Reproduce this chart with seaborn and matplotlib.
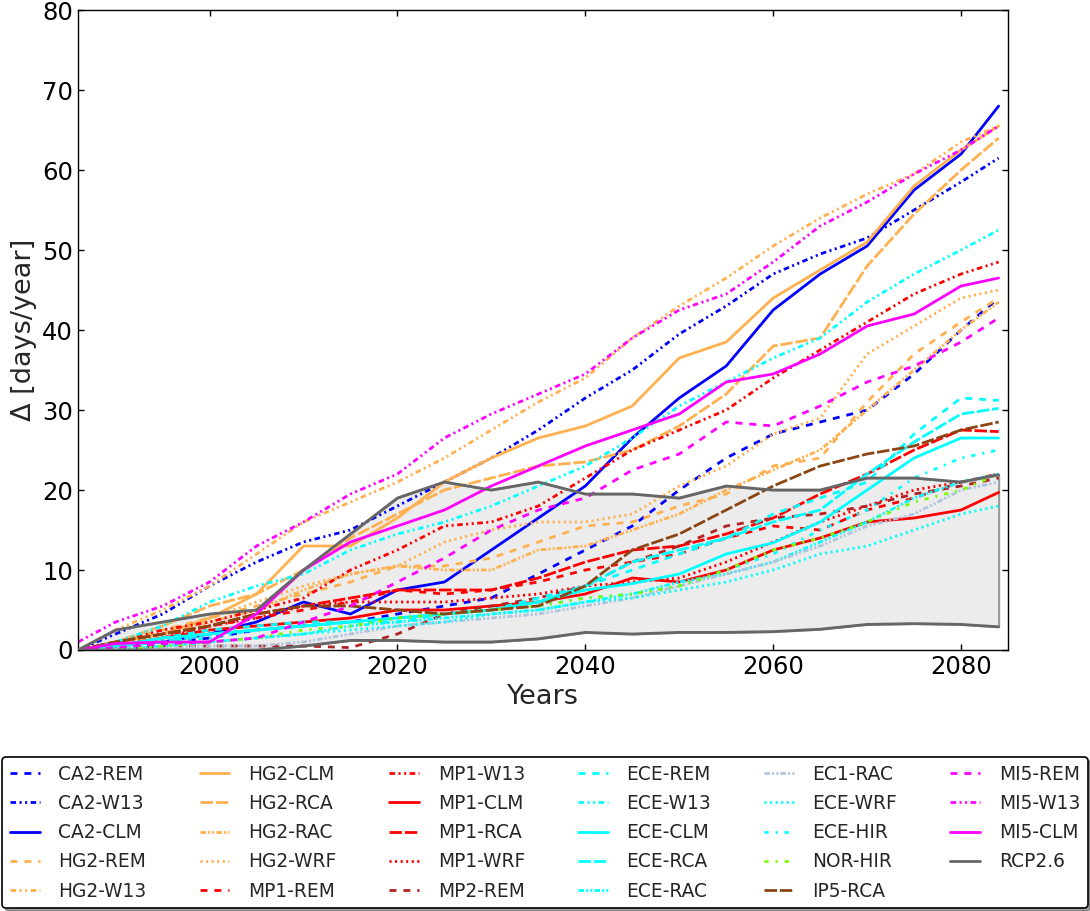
import matplotlib
matplotlib.use("Agg")
import matplotlib.pyplot as plt
import seaborn as sns

# values (days/year change), every ~5 years
years = [1986, 1990, 1995, 2000, 2005, 2010, 2015, 2020, 2025, 2030, 2035,
         2040, 2045, 2050, 2055, 2060, 2065, 2070, 2075, 2080, 2084]

ca2_rem = [0, 0.3, 0.8, 1.5, 2.5, 3, 3.5, 4.5, 5.5, 6.5, 9.5, 12.5, 15.5, 20, 24, 27, 28.5, 30, 34.5, 40, 44]
ca2_w13 = [0, 2, 4.5, 8, 11, 13.5, 15, 18, 21, 24, 27.5, 31.5, 35, 39.5, 43, 47, 49.5, 51.5, 55, 58.5, 61.5]
ca2_clm = [0, 0.5, 1, 2, 3.5, 6, 4.5, 7.5, 8.5, 12.5, 16.5, 20.5, 26.5, 31.5, 35.5, 42.5, 47, 50.5, 57.5, 62, 68]
hg2_rem = [0, 1, 2.5, 4, 5.5, 7, 8.5, 10.5, 10.5, 11.5, 13.5, 15.5, 16, 18, 19.5, 23, 24, 31, 37, 41, 44]
hg2_w13 = [0, 2.5, 5, 8, 12, 16, 18.5, 21, 24, 27.5, 31, 34, 39, 43, 46.5, 50.5, 54, 57, 59.5, 63.5, 65.5]
hg2_clm = [0, 1, 2, 4, 7, 13, 13, 16.5, 21, 24, 26.5, 28, 30.5, 36.5, 38.5, 44, 47.5, 51, 58, 62.5, 65.5]
hg2_rca = [0, 1, 3, 5.5, 7, 10, 14, 17, 20, 21.5, 23, 23.5, 25, 28, 32, 38, 39, 48, 54.5, 60, 64]
hg2_rac = [0, 0.5, 2, 3.5, 5, 7.5, 9.5, 10.5, 10, 10, 12.5, 13, 15, 17, 20, 22.5, 25, 30, 35, 40, 43.5]
hg2_wrf = [0, 0.5, 2, 4, 6, 8, 9.5, 10.5, 13.5, 15, 16, 16, 17, 20.5, 23, 27, 29, 37, 40.5, 44, 45]
mp1_rem = [0, 0.5, 1.5, 3, 4, 5, 6, 7.5, 7, 7.5, 8.5, 10, 11, 12, 14, 15.5, 15, 17.5, 19, 21, 22]
mp1_w13 = [0, 1, 2.5, 3.5, 5, 6.5, 10, 12.5, 15.5, 16, 18, 21.5, 25, 27.5, 30, 34, 37.5, 41, 44.5, 47, 48.5]
mp1_clm = [0, 0.5, 1.5, 2.5, 3, 3.5, 4, 5, 5, 5.5, 6, 7, 9, 8.5, 10, 12.5, 14, 16, 16.5, 17.5, 19.7]
mp1_rca = [0, 1, 2, 3, 4.5, 5.5, 6.5, 7.5, 7.5, 7.5, 9, 11, 12.5, 13, 14.5, 16.5, 19.5, 22, 25, 27.5, 27.3]
mp1_wrf = [0, 0.5, 1.5, 3, 4, 5.5, 6, 6, 6, 6.5, 7, 8, 8.5, 9, 11, 13.5, 16, 18, 20, 21, 22]
mp2_rem = [0, 0, 0.5, 0.5, 0.5, 0.5, 0.3, 2, 4.5, 5.5, 6.5, 8, 11, 13, 15.5, 16.5, 17, 18, 19.5, 20.5, 21.5]
ece_rem = [0, 0.5, 1.5, 2.5, 3, 3.5, 3.5, 3.5, 4.5, 5, 6.5, 8, 10, 12, 14, 17, 19, 21, 27, 31.5, 31.2]
ece_w13 = [0, 1, 3, 6, 8, 9.5, 12.5, 14.5, 16, 18, 20.5, 23, 26.5, 30.5, 33.5, 36.5, 39, 43.5, 47, 50, 52.5]
ece_clm = [0, 0.5, 1.5, 2, 2.5, 3, 3.5, 4, 4.5, 5, 6, 7.5, 8.3, 9.5, 12, 13.4, 16, 20, 24, 26.5, 26.5]
ece_rca = [0, 0.5, 1, 2, 2.5, 3, 3.5, 4, 4.5, 5, 6, 8, 11, 12.5, 14, 16, 17.5, 22, 26, 29.5, 30.2]
ece_rac = [0, 0, 0.5, 1, 1.5, 2, 3, 3.5, 4, 4.5, 5, 6, 7, 8.5, 9.5, 11, 13.5, 16, 19, 21, 22]
ec1_rac = [0, 0, 0.3, 0.5, 0.5, 1, 2, 3, 3.5, 4, 4.5, 5.5, 6.5, 8, 9.5, 11, 13, 15.5, 17, 20, 21]
ece_wrf = [0, 0, 0.5, 1, 1.5, 2, 2.5, 3, 3.5, 4.5, 5, 6, 6.5, 7.5, 8.5, 10, 12, 13, 15, 17, 18]
ece_hir = [0, 0.5, 1, 1.5, 2.5, 3, 3.5, 4, 4.5, 5, 5.5, 6.5, 7, 8, 10, 12, 15, 17.5, 21.5, 24, 25]
nor_hir = [0, 0, 0.5, 1, 1.5, 2.5, 3, 4, 4.5, 5, 5.5, 6.5, 7, 8, 10, 12.5, 14, 16, 18.5, 20, 22]
ip5_rca = [0, 1, 2, 3, 4.5, 5.5, 5.5, 5, 4.5, 5, 5.5, 8, 12.5, 14.5, 17.5, 20.5, 23, 24.5, 25.5, 27.5, 28.5]
mi5_rem = [0, 0.3, 0.8, 1, 1.5, 3.5, 5.5, 8.5, 11.5, 15, 17.5, 19, 22.5, 24.5, 28.5, 28, 30.5, 33.5, 35.5, 38.5, 41.5]
mi5_w13 = [1, 3.5, 5.5, 8.5, 13, 16, 19.5, 22, 26.5, 29.5, 32, 34.5, 39, 42.5, 44.5, 48.5, 53, 56, 59.5, 62.5, 65.5]
mi5_clm = [0, 0.8, 1, 1, 4.5, 10, 13.5, 15.5, 17.5, 20.5, 23, 25.5, 27.5, 29.5, 33.5, 34.5, 37, 40.5, 42, 45.5, 46.5]
rcp_hi = [0, 2.5, 3.5, 4.5, 5, 10, 14.5, 19, 21, 20, 21, 19.5, 19.5, 19, 20.5, 20, 20, 21.5, 21.5, 21, 21.9]
rcp_lo = [0, 0, 0, 0, 0, 0.5, 1.2, 1.2, 1, 1, 1.4, 2.2, 2, 2.2, 2.2, 2.3, 2.6, 3.2, 3.3, 3.2, 2.9]

# line styles per RCM
REM = (0, (5, 5))
W13 = (0, (4, 2.5, 1.5, 2.5, 1.5, 2.5))
CLM = "-"
RCA = (0, (9, 2))
RAC = (0, (4, 1.5, 1.5, 1.5, 1.5, 1.5))
WRF = (0, (1.5, 2.5))
HIR = (0, (3, 5, 1.5, 5))

blue = "#0000ff"
orange = "#ffb04f"
red = "#ff0000"
firebrick = "#b22222"
cyan = "#00ffff"
steel = "#b0c4de"
green = "#7cfc00"
brown = "#8b4513"
magenta = "#ff00ff"
grey = "#666666"

series = [
    ("CA2-REM", ca2_rem, blue, REM),
    ("CA2-W13", ca2_w13, blue, W13),
    ("CA2-CLM", ca2_clm, blue, CLM),
    ("HG2-REM", hg2_rem, orange, REM),
    ("HG2-W13", hg2_w13, orange, W13),
    ("HG2-CLM", hg2_clm, orange, CLM),
    ("HG2-RCA", hg2_rca, orange, RCA),
    ("HG2-RAC", hg2_rac, orange, RAC),
    ("HG2-WRF", hg2_wrf, orange, WRF),
    ("MP1-REM", mp1_rem, red, REM),
    ("MP1-W13", mp1_w13, red, W13),
    ("MP1-CLM", mp1_clm, red, CLM),
    ("MP1-RCA", mp1_rca, red, RCA),
    ("MP1-WRF", mp1_wrf, red, WRF),
    ("MP2-REM", mp2_rem, firebrick, REM),
    ("ECE-REM", ece_rem, cyan, REM),
    ("ECE-W13", ece_w13, cyan, W13),
    ("ECE-CLM", ece_clm, cyan, CLM),
    ("ECE-RCA", ece_rca, cyan, RCA),
    ("ECE-RAC", ece_rac, cyan, RAC),
    ("EC1-RAC", ec1_rac, steel, RAC),
    ("ECE-WRF", ece_wrf, cyan, WRF),
    ("ECE-HIR", ece_hir, cyan, HIR),
    ("NOR-HIR", nor_hir, green, HIR),
    ("IP5-RCA", ip5_rca, brown, RCA),
    ("MI5-REM", mi5_rem, magenta, REM),
    ("MI5-W13", mi5_w13, magenta, W13),
    ("MI5-CLM", mi5_clm, magenta, CLM),
]

sns.set_style("ticks")
plt.rcParams["font.family"] = ["DejaVu Sans"]
plt.rcParams["lines.scale_dashes"] = False

fig = plt.figure(figsize=(10.9, 9.11), dpi=100)
ax = fig.add_axes([0.0716, 0.2865, 0.8532, 0.7025])

ax.fill_between(years, rcp_lo, rcp_hi, facecolor="#ececec", edgecolor="#999999", lw=1.5, zorder=1)

handles, labels = [], []
for name, vals, color, ls in series:
    sns.lineplot(x=years, y=vals, color=color, linestyle=ls, lw=2,
                 errorbar=None, legend=False, ax=ax, zorder=2)
    handles.append(ax.lines[-1])
    labels.append(name)

sns.lineplot(x=years, y=rcp_hi, color=grey, lw=2, errorbar=None, legend=False, ax=ax, zorder=3)
handles.append(ax.lines[-1])
labels.append("RCP2.6")
sns.lineplot(x=years, y=rcp_lo, color=grey, lw=2, errorbar=None, legend=False, ax=ax, zorder=3)

ax.set_xlim(1986, 2085)
ax.set_ylim(0, 80)
ax.set_xticks([2000, 2020, 2040, 2060, 2080])
ax.set_yticks(range(0, 81, 10))
ax.tick_params(direction="in", top=True, right=True, length=4.5, width=1,
               labelsize=17.5, colors="black")
for sp in ax.spines.values():
    sp.set_visible(True)
    sp.set_color("black")
    sp.set_linewidth(1)
ax.set_xlabel("Years", fontsize=19.5)
ax.set_ylabel("Δ [days/year]", fontsize=19.5)

leg = fig.legend(handles, labels, loc="upper center", bbox_to_anchor=(0.5, 0.179),
                 ncol=6, fontsize=13.4, fancybox=True, shadow=True, framealpha=1,
                 handlelength=1.6, handletextpad=1.0, columnspacing=2.85,
                 labelspacing=0.55, edgecolor="black")
leg.get_frame().set_linewidth(1.2)

fig.savefig("out.png", dpi=100)
